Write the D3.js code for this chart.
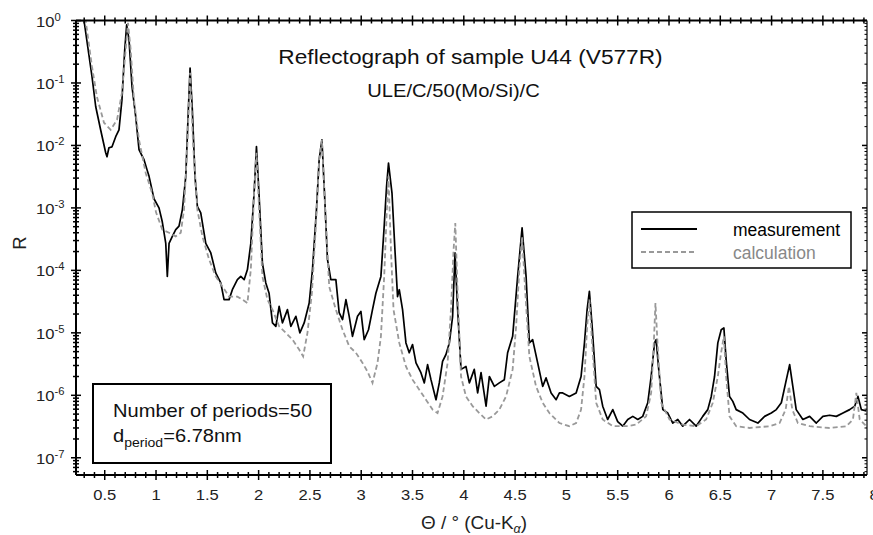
<!DOCTYPE html>
<html>
<head>
<meta charset="utf-8">
<script src="https://cdn.jsdelivr.net/npm/d3@7"></script>
<style>
body { margin: 0; background: #fff; }
svg { display: block; font-family: "Liberation Sans", Arial, sans-serif; }
</style>
</head>
<body>
<svg width="873" height="535"></svg>
<script>
// Data (theta in degrees, R)
var measTheta = [0.21, 0.298, 0.376, 0.412, 0.46, 0.509, 0.522, 0.541, 0.571, 0.607, 0.639, 0.668, 0.695, 0.714, 0.737, 0.766, 0.802, 0.834, 0.883, 0.912, 0.932, 0.98, 1.029, 1.061, 1.095, 1.11, 1.127, 1.159, 1.192, 1.224, 1.257, 1.29, 1.315, 1.332, 1.354, 1.38, 1.403, 1.436, 1.485, 1.534, 1.582, 1.631, 1.663, 1.712, 1.744, 1.793, 1.826, 1.859, 1.891, 1.924, 1.956, 1.979, 2.005, 2.037, 2.07, 2.102, 2.135, 2.168, 2.2, 2.232, 2.281, 2.314, 2.363, 2.402, 2.444, 2.493, 2.525, 2.564, 2.59, 2.617, 2.642, 2.671, 2.704, 2.753, 2.785, 2.818, 2.851, 2.883, 2.915, 2.964, 2.997, 3.029, 3.071, 3.11, 3.143, 3.192, 3.224, 3.247, 3.266, 3.3, 3.329, 3.354, 3.371, 3.403, 3.436, 3.468, 3.5, 3.534, 3.582, 3.615, 3.647, 3.68, 3.729, 3.761, 3.793, 3.826, 3.859, 3.891, 3.914, 3.94, 3.973, 4.021, 4.054, 4.102, 4.135, 4.168, 4.217, 4.249, 4.298, 4.346, 4.395, 4.427, 4.476, 4.525, 4.568, 4.607, 4.639, 4.671, 4.72, 4.769, 4.802, 4.851, 4.9, 4.932, 4.964, 5.029, 5.095, 5.143, 5.176, 5.202, 5.224, 5.251, 5.29, 5.322, 5.354, 5.402, 5.452, 5.5, 5.549, 5.598, 5.647, 5.696, 5.744, 5.793, 5.826, 5.859, 5.875, 5.9, 5.94, 5.988, 6.037, 6.086, 6.134, 6.2, 6.265, 6.329, 6.378, 6.412, 6.444, 6.476, 6.509, 6.535, 6.557, 6.59, 6.622, 6.655, 6.72, 6.785, 6.866, 6.932, 6.997, 7.046, 7.095, 7.137, 7.176, 7.207, 7.24, 7.305, 7.371, 7.436, 7.5, 7.566, 7.631, 7.696, 7.761, 7.81, 7.842, 7.875, 7.924];
var measR = [1.0, 1.0, 0.126, 0.042, 0.0178, 0.0077, 0.0066, 0.0092, 0.0095, 0.0138, 0.0178, 0.054, 0.34, 0.85, 0.49, 0.087, 0.029, 0.0086, 0.0059, 0.0041, 0.0032, 0.0014, 0.001, 6.0e-4, 2.7e-4, 8.0e-5, 2.7e-4, 3.5e-4, 4.5e-4, 5.1e-4, 9.4e-4, 0.0032, 0.037, 0.173, 0.037, 0.0032, 0.00106, 8.3e-4, 2.7e-4, 1.9e-4, 9.1e-5, 6.3e-5, 3.4e-5, 3.4e-5, 4.9e-5, 7.1e-5, 8.0e-5, 7.1e-5, 1.03e-4, 2.7e-4, 0.00173, 0.0096, 0.00153, 1.3e-4, 6.3e-5, 4.3e-5, 1.44e-5, 1.27e-5, 2.65e-5, 1.44e-5, 2.35e-5, 1.27e-5, 1.84e-5, 1.0e-5, 1.44e-5, 3.0e-5, 1.03e-4, 9.4e-4, 0.0059, 0.0123, 0.00173, 1.5e-4, 7.1e-5, 7.1e-5, 2.1e-5, 1.63e-5, 3.4e-5, 1.84e-5, 8.8e-6, 1.84e-5, 2.2e-5, 7.8e-6, 1.12e-5, 2.35e-5, 4.3e-5, 8.0e-5, 5.1e-4, 0.0022, 0.0052, 0.00173, 2.1e-4, 3.8e-5, 4.9e-5, 2.35e-5, 6.9e-6, 4.8e-6, 6.5e-6, 3.3e-6, 2.3e-6, 1.58e-6, 3.1e-6, 1.78e-6, 8.5e-7, 1.58e-6, 3.5e-6, 4.5e-6, 6.9e-6, 1.84e-5, 1.9e-4, 2.35e-5, 2.6e-6, 2.9e-6, 1.58e-6, 2.6e-6, 1.09e-6, 2.3e-6, 6.7e-7, 2.0e-6, 1.39e-6, 1.58e-6, 1.78e-6, 4.8e-6, 8.8e-6, 8.0e-5, 4.8e-4, 8.0e-5, 6.9e-6, 7.8e-6, 3.3e-6, 1.39e-6, 1.9e-6, 1.09e-6, 8.5e-7, 1.09e-6, 1.09e-6, 9.6e-7, 1.09e-6, 2.0e-6, 6.9e-6, 2.35e-5, 4.6e-5, 1.27e-5, 1.39e-6, 1.23e-6, 6.7e-7, 4.1e-7, 5.9e-7, 3.8e-7, 3.2e-7, 4.1e-7, 4.6e-7, 4.1e-7, 4.6e-7, 7.6e-7, 2.0e-6, 6.9e-6, 7.8e-6, 2.6e-6, 5.9e-7, 5.2e-7, 3.6e-7, 4.1e-7, 3.2e-7, 4.1e-7, 3.2e-7, 4.6e-7, 5.9e-7, 9.6e-7, 2.0e-6, 6.9e-6, 1.12e-5, 1.2e-5, 3.7e-6, 9.6e-7, 8.0e-7, 5.9e-7, 5.2e-7, 4.1e-7, 3.6e-7, 4.6e-7, 5.2e-7, 5.9e-7, 7.6e-7, 1.58e-6, 3.1e-6, 1.39e-6, 5.9e-7, 4.1e-7, 4.6e-7, 3.6e-7, 4.6e-7, 4.8e-7, 4.6e-7, 5.2e-7, 5.9e-7, 6.7e-7, 9.6e-7, 5.9e-7, 5.6e-7];

var calcTheta = [0.21, 0.314, 0.376, 0.424, 0.493, 0.558, 0.62, 0.668, 0.704, 0.727, 0.753, 0.785, 0.834, 0.9, 0.961, 1.0, 1.061, 1.127, 1.192, 1.241, 1.273, 1.306, 1.332, 1.361, 1.403, 1.452, 1.517, 1.582, 1.648, 1.712, 1.793, 1.842, 1.891, 1.924, 1.956, 1.979, 2.005, 2.037, 2.086, 2.135, 2.2, 2.265, 2.33, 2.395, 2.434, 2.476, 2.519, 2.558, 2.59, 2.617, 2.649, 2.688, 2.753, 2.818, 2.883, 2.948, 3.013, 3.061, 3.11, 3.159, 3.192, 3.224, 3.247, 3.266, 3.29, 3.315, 3.371, 3.436, 3.5, 3.566, 3.631, 3.696, 3.744, 3.793, 3.842, 3.875, 3.9, 3.917, 3.94, 3.973, 4.021, 4.086, 4.151, 4.217, 4.281, 4.346, 4.412, 4.476, 4.51, 4.541, 4.568, 4.6, 4.639, 4.704, 4.769, 4.834, 4.932, 5.029, 5.095, 5.143, 5.176, 5.202, 5.224, 5.251, 5.29, 5.354, 5.452, 5.598, 5.68, 5.777, 5.826, 5.852, 5.868, 5.888, 5.924, 6.005, 6.134, 6.265, 6.362, 6.427, 6.476, 6.505, 6.535, 6.557, 6.59, 6.655, 6.785, 6.98, 7.078, 7.137, 7.169, 7.202, 7.256, 7.371, 7.566, 7.729, 7.793, 7.826, 7.859, 7.924];
var calcR = [1.0, 1.0, 0.182, 0.06, 0.0231, 0.0178, 0.0258, 0.0697, 0.34, 0.92, 0.34, 0.054, 0.0123, 0.0036, 0.00175, 8.5e-4, 4.5e-4, 4.0e-4, 3.5e-4, 4.0e-4, 9.4e-4, 0.011, 0.146, 0.011, 9.4e-4, 3.5e-4, 1.5e-4, 8.0e-5, 5.5e-5, 3.8e-5, 3.8e-5, 3.4e-5, 3.0e-5, 1.03e-4, 0.00175, 0.0076, 9.4e-4, 8.0e-5, 3.4e-5, 2.35e-5, 1.27e-5, 1.0e-5, 7.8e-6, 5.4e-6, 4.2e-6, 1.0e-5, 4.3e-5, 5.1e-4, 0.0059, 0.0123, 9.4e-4, 5.5e-5, 2.35e-5, 1.12e-5, 6.1e-6, 4.8e-6, 3.3e-6, 2.4e-6, 1.58e-6, 3.3e-6, 8.8e-6, 8.0e-5, 7.3e-4, 0.0032, 2.1e-4, 2.35e-5, 6.9e-6, 2.9e-6, 1.78e-6, 1.23e-6, 8.5e-7, 5.9e-7, 5.2e-7, 9.6e-7, 3.3e-6, 2.35e-5, 2.1e-4, 5.7e-4, 4.3e-5, 2.0e-6, 9.6e-7, 6.7e-7, 5.2e-7, 4.1e-7, 4.6e-7, 5.9e-7, 9.6e-7, 2.6e-6, 1.27e-5, 1.03e-4, 3.5e-4, 4.3e-5, 4.2e-6, 1.39e-6, 7.6e-7, 5.2e-7, 3.6e-7, 3.2e-7, 3.6e-7, 5.9e-7, 2.0e-6, 1.27e-5, 3.4e-5, 6.9e-6, 7.6e-7, 4.1e-7, 3.2e-7, 3.2e-7, 3.4e-7, 4.6e-7, 1.09e-6, 6.9e-6, 3.0e-5, 6.9e-6, 7.6e-7, 4.1e-7, 3.4e-7, 3.2e-7, 4.1e-7, 7.6e-7, 2.0e-6, 4.5e-6, 8.8e-6, 2.0e-6, 4.6e-7, 3.2e-7, 3.0e-7, 3.2e-7, 3.6e-7, 5.9e-7, 1.39e-6, 5.9e-7, 3.6e-7, 3.2e-7, 3.0e-7, 3.2e-7, 4.1e-7, 1.09e-6, 4.1e-7, 3.2e-7];

var xTickValues = [0.5, 1, 1.5, 2, 2.5, 3, 3.5, 4, 4.5, 5, 5.5, 6, 6.5, 7, 7.5, 8];
var xTickLabels = ["0.5", "1", "1.5", "2", "2.5", "3", "3.5", "4", "4.5", "5", "5.5", "6", "6.5", "7", "7.5", "8"];
var yExponents = [0, -1, -2, -3, -4, -5, -6, -7];
var seriesNames = ["measurement", "calculation"];
var infoLines = ["Number of periods=50", "6.78nm"];

// Areas
var svg = d3.select("svg");
var plotLeft = 76, plotRight = 867, plotTop = 20.5, plotBottom = 475;

var xscale = d3.scaleLinear().domain([0.22, 7.93]).range([plotLeft, plotRight]);
var yscale = d3.scaleLog().domain([5.3e-8, 1]).range([plotBottom, plotTop]);

var xMinor = d3.range(3, 80).filter((i) => i % 5 !== 0).map((i) => i / 10);
var yMinor = [];
d3.range(-8, 0).forEach((e) => {
	d3.range(2, 10).forEach((m) => {
		var v = m * Math.pow(10, e);
		if (v > 5.3e-8 && v < 1) yMinor.push(v);
	});
});

// the source picture is slightly wider than tall, so texts get a small x stretch
function stretchText(sel, x, y, sx) {
	sel.attr("transform", `translate(${x}, ${y}) scale(${sx}, 1)`);
}

svg.append("clipPath").attr("id", "plotClip")
	.append("rect")
	.attr("x", plotLeft).attr("y", plotTop)
	.attr("width", plotRight - plotLeft).attr("height", plotBottom - plotTop);

// Curves
var line = d3.line().x((d) => xscale(d[0])).y((d) => yscale(d[1]));
var curves = svg.append("g").attr("clip-path", "url(#plotClip)").attr("fill", "none");

curves.append("path")
	.datum(d3.zip(measTheta, measR))
	.attr("stroke", "#000")
	.attr("stroke-width", 1.7)
	.attr("stroke-linejoin", "round")
	.attr("d", line);

curves.append("path")
	.datum(d3.zip(calcTheta, calcR))
	.attr("stroke", "#999")
	.attr("stroke-width", 1.8)
	.attr("stroke-dasharray", "5,3")
	.attr("d", line);

// Axes: crossing ticks on bottom/top/left, inward ticks on the right
function crossTicks(g, values, scale, horizontal, half) {
	g.selectAll(null).data(values).enter().append("line")
		.attr("x1", (d) => horizontal ? scale(d) : -half)
		.attr("x2", (d) => horizontal ? scale(d) : half)
		.attr("y1", (d) => horizontal ? -half : scale(d))
		.attr("y2", (d) => horizontal ? half : scale(d))
		.attr("stroke", "#000")
		.attr("stroke-width", 1.5);
}

var axes = svg.append("g");
var bottomAxis = axes.append("g").attr("transform", `translate(0, ${plotBottom})`);
var topAxis = axes.append("g").attr("transform", `translate(0, ${plotTop})`);
var leftAxis = axes.append("g").attr("transform", `translate(${plotLeft}, 0)`);
var rightAxis = axes.append("g").attr("transform", `translate(${plotRight}, 0)`);

[bottomAxis, topAxis].forEach((g) => {
	g.append("line").attr("x1", plotLeft).attr("x2", plotRight)
		.attr("stroke", "#000").attr("stroke-width", 2);
	crossTicks(g, xTickValues.filter((v) => v < 7.93), xscale, true, 5);
	crossTicks(g, xMinor, xscale, true, 3);
});

leftAxis.append("line").attr("y1", plotTop).attr("y2", plotBottom)
	.attr("stroke", "#000").attr("stroke-width", 2);
crossTicks(leftAxis, yExponents.map((e) => Math.pow(10, e)), yscale, false, 5);
crossTicks(leftAxis, yMinor, yscale, false, 3);

rightAxis.append("line").attr("y1", plotTop).attr("y2", plotBottom)
	.attr("stroke", "#000").attr("stroke-width", 1.2);
rightAxis.selectAll(null).data(yExponents.map((e) => Math.pow(10, e))).enter().append("line")
	.attr("x1", -5).attr("x2", 0)
	.attr("y1", (d) => yscale(d)).attr("y2", (d) => yscale(d))
	.attr("stroke", "#000").attr("stroke-width", 1.5);
rightAxis.selectAll(null).data(yMinor).enter().append("line")
	.attr("x1", -2.5).attr("x2", 0)
	.attr("y1", (d) => yscale(d)).attr("y2", (d) => yscale(d))
	.attr("stroke", "#000").attr("stroke-width", 1);

// Tick labels
bottomAxis.selectAll("text.tickLabel")
	.data(xTickValues)
	.enter().append("text")
	.attr("class", "tickLabel")
	.attr("text-anchor", "middle")
	.attr("font-size", 15.5)
	.attr("fill", "#222")
	.each(function (d) { stretchText(d3.select(this), xscale(d), 24.5, 1.07); })
	.text((d, i) => xTickLabels[i]);

var yLabels = leftAxis.selectAll("text.tickLabel")
	.data(yExponents)
	.enter().append("text")
	.attr("class", "tickLabel")
	.attr("font-size", 15.5)
	.attr("fill", "#222")
	.each(function (d) { stretchText(d3.select(this), -40, yscale(Math.pow(10, d)) + 6, 1.07); });
yLabels.append("tspan").text("10");
yLabels.append("tspan").attr("dy", -6).attr("font-size", 10.5)
	.text((d) => d === 0 ? "0" : "-" + Math.abs(d));

// Axis titles
svg.append("text")
	.attr("text-anchor", "middle")
	.attr("font-size", 18)
	.attr("fill", "#222")
	.call((t) => stretchText(t, 474, 529, 1.05))
	.call((t) => {
		t.append("tspan").text("\u0398 / \u00b0 (Cu-K");
		t.append("tspan").attr("dy", 4).attr("font-size", 12).attr("font-style", "italic").text("\u03b1");
		t.append("tspan").attr("dy", -4).text(")");
	});

svg.append("text")
	.attr("transform", "translate(26, 243) rotate(-90)")
	.attr("text-anchor", "middle")
	.attr("font-size", 18.5)
	.attr("fill", "#222")
	.text("R");

// Titles
svg.append("text")
	.attr("text-anchor", "middle")
	.attr("font-size", 21)
	.attr("fill", "#111")
	.call((t) => stretchText(t, 470.5, 64, 1.08))
	.text("Reflectograph of sample U44 (V577R)");

svg.append("text")
	.attr("text-anchor", "middle")
	.attr("font-size", 18.6)
	.attr("fill", "#111")
	.call((t) => stretchText(t, 453.5, 97, 1.085))
	.text("ULE/C/50(Mo/Si)/C");

// Legend
var legend = svg.append("g");
legend.append("rect")
	.attr("x", 632).attr("y", 212).attr("width", 219).attr("height", 56)
	.attr("fill", "#fff").attr("stroke", "#000").attr("stroke-width", 1.5);
legend.append("line")
	.attr("x1", 641).attr("x2", 697).attr("y1", 229).attr("y2", 229)
	.attr("stroke", "#000").attr("stroke-width", 2);
legend.append("line")
	.attr("x1", 641).attr("x2", 697).attr("y1", 252).attr("y2", 252)
	.attr("stroke", "#999").attr("stroke-width", 1.8).attr("stroke-dasharray", "5,3");
legend.selectAll("text")
	.data(seriesNames)
	.enter().append("text")
	.attr("font-size", 17.5)
	.attr("fill", (d, i) => i === 0 ? "#000" : "#888")
	.each(function (d, i) { stretchText(d3.select(this), 733, 236 + i * 23, 1.0); })
	.text((d) => d);

// Info box
var info = svg.append("g");
info.append("rect")
	.attr("x", 93).attr("y", 384).attr("width", 238).attr("height", 79)
	.attr("fill", "#fff").attr("stroke", "#000").attr("stroke-width", 2);
info.append("text")
	.attr("font-size", 18.6)
	.attr("fill", "#111")
	.call((t) => stretchText(t, 113, 417, 1.08))
	.text(infoLines[0]);
info.append("text")
	.attr("font-size", 18.6)
	.attr("fill", "#111")
	.call((t) => stretchText(t, 113, 442, 1.08))
	.call((t) => {
		t.append("tspan").text("d");
		t.append("tspan").attr("dy", 5).attr("font-size", 13).text("period");
		t.append("tspan").attr("dy", -5).text("=" + infoLines[1]);
	});
</script>
</body>
</html>
